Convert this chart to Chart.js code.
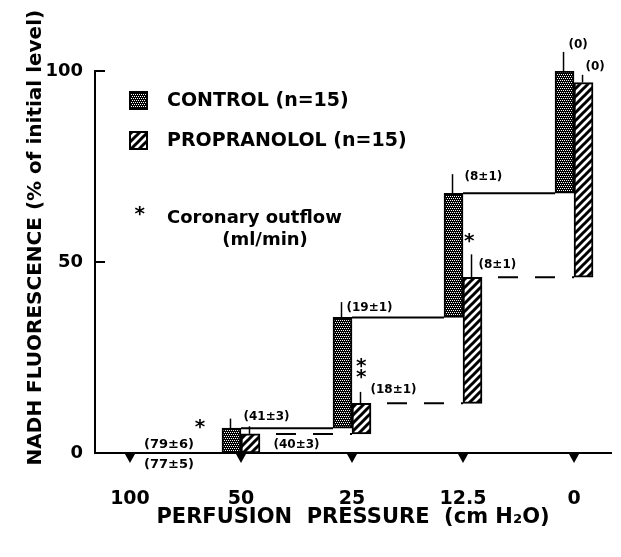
<!DOCTYPE html>
<html>
<head>
<meta charset="utf-8">
<script src="https://cdn.jsdelivr.net/npm/chart.js@4"></script>
<style>
  html, body { margin: 0; padding: 0; background: #fff; }
  #caja { width: 621px; height: 557px; }
</style>
</head>
<body>
<div id="caja"><canvas id="grafico" width="621" height="557"></canvas></div>
<script>
// Presiones de perfusion (eje X)
const presiones = ['100', '50', '25', '12.5', '0'];

// Barras flotantes: desde donde empiezan y hasta donde llegan (% del nivel inicial)
const controlBajo = [null, 0, 6.5, 35.5, 68];
const controlAlto = [null, 6.5, 35.5, 68, 100];
const propBajo = [null, 0, 5, 13, 46];
const propAlto = [null, 5, 13, 46, 97];

// Error estandar (la rayita encima de cada barra)
const controlError = [null, 2.5, 4, 5, 5];
const propError = [null, 2, 3, 6, 2];

// Flujo coronario (ml/min)
const controlFlujo = ['(79±6)', '(41±3)', '(19±1)', '(8±1)', '(0)'];
const propFlujo = ['(77±5)', '(40±3)', '(18±1)', '(8±1)', '(0)'];
// Asteriscos de significacion
const propSignif = ['*', '', '**', '*', ''];

const ticksY = [0, 50, 100];

const FUENTE = '"DejaVu Sans", sans-serif';

const cnv = document.getElementById('grafico');
const ctx = cnv.getContext('2d');

// Tramas de relleno
function tramaCuadros() {
  const c = document.createElement('canvas');
  c.width = 4; c.height = 4;
  const g = c.getContext('2d');
  g.fillStyle = '#000'; g.fillRect(0, 0, 4, 4);
  g.fillStyle = '#fff';
  g.fillRect(0, 0, 1, 1); g.fillRect(2, 0, 1, 1);
  g.fillRect(1, 2, 1, 1); g.fillRect(3, 2, 1, 1);
  return ctx.createPattern(c, 'repeat');
}
function tramaRayas() {
  const c = document.createElement('canvas');
  c.width = 8; c.height = 8;
  const g = c.getContext('2d');
  g.fillStyle = '#fff'; g.fillRect(0, 0, 8, 8);
  g.strokeStyle = '#000'; g.lineWidth = 3;
  g.beginPath();
  g.moveTo(-4, 4); g.lineTo(4, -4);
  g.moveTo(0, 8); g.lineTo(8, 0);
  g.moveTo(4, 12); g.lineTo(12, 4);
  g.stroke();
  return ctx.createPattern(c, 'repeat');
}
const cuadros = tramaCuadros();
const rayas = tramaRayas();

// texto centrado segun la tinta real del glifo
function textoCentrado(g, txt, cx, cy) {
  const m = g.measureText(txt);
  const ancho = m.actualBoundingBoxLeft + m.actualBoundingBoxRight;
  const alto = m.actualBoundingBoxAscent + m.actualBoundingBoxDescent;
  g.textAlign = 'left';
  g.textBaseline = 'alphabetic';
  g.fillText(txt, cx - ancho / 2 + m.actualBoundingBoxLeft, cy + alto / 2 - m.actualBoundingBoxDescent);
}

// desplazamiento de cada etiqueta respecto a la punta de su rayita de error
const ajusteC = [null, [13, -2], [5, 6], [12, 3], [5, -7]];
const ajusteP = [null, [24, 19], [10, -2], [7, 11], [3, -8]];

const decoracion = {
  id: 'decoracion',
  afterDatasetsDraw(chart) {
    const { ctx: g, scales: { x, y } } = chart;
    const barrasC = chart.getDatasetMeta(0).data;
    const barrasP = chart.getDatasetMeta(1).data;
    g.save();
    g.strokeStyle = '#000';
    g.fillStyle = '#000';

    // marcas del eje Y (hacia dentro)
    g.lineWidth = 2;
    y.ticks.forEach(t => {
      if (t.value === 0) return;
      const py = y.getPixelForValue(t.value);
      g.beginPath(); g.moveTo(y.right, py); g.lineTo(y.right + 10, py); g.stroke();
    });

    // triangulos bajo el eje X
    x.ticks.forEach(t => {
      const px = x.getPixelForValue(t.value);
      g.beginPath();
      g.moveTo(px - 5, y.bottom + 1);
      g.lineTo(px + 5, y.bottom + 1);
      g.lineTo(px, y.bottom + 10);
      g.closePath(); g.fill();
    });

    // lineas de union entre barras
    for (let i = 1; i < presiones.length - 1; i++) {
      const a = barrasC[i], b = barrasC[i + 1];
      const py = y.getPixelForValue(controlAlto[i]);
      g.setLineDash([]);
      g.beginPath(); g.moveTo(a.x + a.width / 2, py); g.lineTo(b.x - b.width / 2, py); g.stroke();

      const c = barrasP[i], d = barrasP[i + 1];
      const qy = y.getPixelForValue(propAlto[i]);
      g.setLineDash([20, 17]);
      g.lineDashOffset = 21;
      g.beginPath(); g.moveTo(c.x + c.width / 2, qy); g.lineTo(d.x - d.width / 2, qy); g.stroke();
    }
    g.setLineDash([]);

    // rayitas de error y etiquetas de flujo
    g.lineWidth = 1.5;
    for (let i = 1; i < presiones.length; i++) {
      g.font = 'bold 12px ' + FUENTE;
      g.textAlign = 'left';
      g.textBaseline = 'middle';

      const bc = barrasC[i];
      const y0 = y.getPixelForValue(controlAlto[i]);
      const y1 = y.getPixelForValue(controlAlto[i] + controlError[i]);
      g.beginPath(); g.moveTo(bc.x - 1, y0); g.lineTo(bc.x - 1, y1); g.stroke();
      g.fillText(controlFlujo[i], bc.x - 1 + ajusteC[i][0], y1 + ajusteC[i][1]);

      const bp = barrasP[i];
      const z0 = y.getPixelForValue(propAlto[i]);
      const z1 = y.getPixelForValue(propAlto[i] + propError[i]);
      g.beginPath(); g.moveTo(bp.x - 1, z0); g.lineTo(bp.x - 1, z1); g.stroke();
      g.fillText(propFlujo[i], bp.x - 1 + ajusteP[i][0], z1 + ajusteP[i][1]);

      // asteriscos
      g.font = 'bold 20px ' + FUENTE;
      const estrellas = propSignif[i].length;
      for (let k = 0; k < estrellas; k++) {
        if (estrellas === 1) textoCentrado(g, '*', bp.x - 3, z1 - 11);
        else textoCentrado(g, '*', bp.x, z1 - 13 - k * 16);
      }
    }

    // a 100 cm no hay barra: solo los flujos y el asterisco
    const x0 = x.getPixelForValue(0);
    const eje = y.getPixelForValue(0);
    g.font = 'bold 13px ' + FUENTE;
    g.textAlign = 'center';
    g.textBaseline = 'middle';
    g.fillText(controlFlujo[0], x0 + 39, eje - 8);
    g.fillText(propFlujo[0], x0 + 39, eje + 12);
    g.font = 'bold 20px ' + FUENTE;
    textoCentrado(g, propSignif[0], x0 + 65, eje - 24);

    // leyenda
    const lx = x.left + 35, ly = y.top + 21;
    const cajas = [[cuadros, chart.data.datasets[0].label, ly], [rayas, chart.data.datasets[1].label, ly + 40]];
    g.lineWidth = 2;
    cajas.forEach(([trama, texto, yy]) => {
      g.fillStyle = trama;
      g.fillRect(lx, yy, 17, 17);
      g.strokeRect(lx, yy, 17, 17);
      g.fillStyle = '#000';
      g.font = 'bold 19px ' + FUENTE;
      g.textAlign = 'left';
      g.textBaseline = 'middle';
      g.fillText(texto, lx + 37, yy + 9);
    });
    g.font = 'bold 20px ' + FUENTE;
    textoCentrado(g, '*', lx + 10, ly + 124);
    g.font = 'bold 18px ' + FUENTE;
    g.textAlign = 'left';
    g.textBaseline = 'middle';
    g.fillText('Coronary outflow', lx + 37, ly + 126);
    g.textAlign = 'center';
    g.fillText('(ml/min)', lx + 135, ly + 148);

    g.restore();
  }
};

new Chart(cnv, {
  type: 'bar',
  data: {
    datasets: [
      {
        label: 'CONTROL (n=15)',
        data: presiones.map((p, i) => ({ x: i, y: controlAlto[i] === null ? null : [controlBajo[i], controlAlto[i]] })),
        backgroundColor: cuadros,
        borderColor: '#000',
        borderWidth: 2,
        borderSkipped: false,
        barThickness: 19
      },
      {
        label: 'PROPRANOLOL (n=15)',
        data: presiones.map((p, i) => ({ x: i, y: propAlto[i] === null ? null : [propBajo[i], propAlto[i]] })),
        backgroundColor: rayas,
        borderColor: '#000',
        borderWidth: 2,
        borderSkipped: false,
        barThickness: 19
      }
    ]
  },
  options: {
    responsive: false,
    animation: false,
    layout: { padding: { top: 71, right: 10, bottom: 0, left: 0 } },
    plugins: {
      legend: { display: false },
      tooltip: { enabled: false }
    },
    scales: {
      x: {
        type: 'linear',
        offset: false,
        min: -0.315,
        max: 4.333,
        grid: { display: false, drawTicks: false },
        border: { display: true, color: '#000', width: 2 },
        ticks: {
          stepSize: 1,
          includeBounds: false,
          padding: 35,
          color: '#000',
          font: { family: FUENTE, size: 19, weight: 'bold' },
          callback: (v) => presiones[v] ?? ''
        },
        title: {
          display: true,
          text: 'PERFUSION  PRESSURE  (cm H₂O)',
          color: '#000',
          font: { family: FUENTE, size: 21, weight: 'bold' },
          padding: { top: 0, bottom: 27 }
        },
        afterFit: (s) => { s.height = 104; }
      },
      y: {
        min: 0,
        max: 100,
        grid: { display: false, drawTicks: false },
        border: { display: true, color: '#000', width: 2 },
        afterBuildTicks: (s) => { s.ticks = ticksY.map(v => ({ value: v })); },
        ticks: {
          padding: 12,
          color: '#000',
          font: { family: FUENTE, size: 18, weight: 'bold' }
        },
        title: {
          display: true,
          // los espacios iniciales suben el titulo como en el original
          text: '       NADH FLUORESCENCE (% of initial level)',
          color: '#000',
          font: { family: FUENTE, size: 20, weight: 'bold' },
          padding: { top: 24, bottom: 0 }
        },
        afterFit: (s) => { s.width = 95; }
      }
    }
  },
  plugins: [decoracion]
});
</script>
</body>
</html>
